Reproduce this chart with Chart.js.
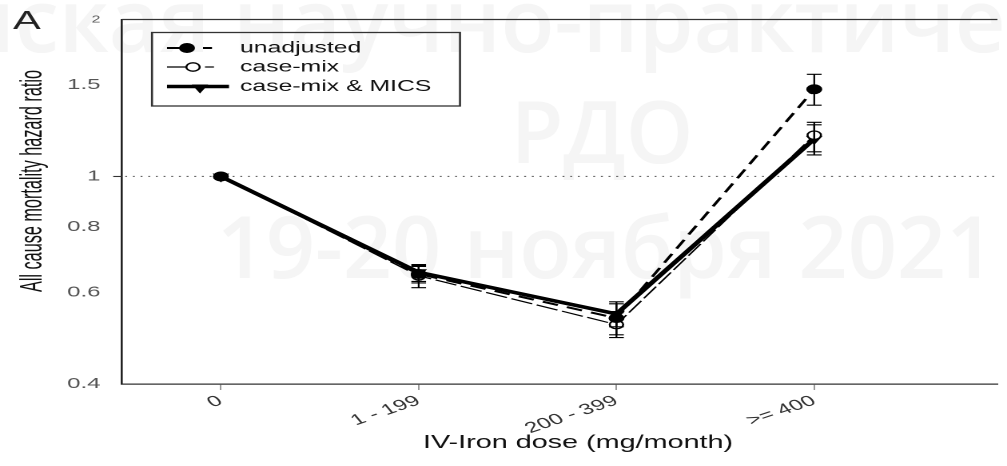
<!DOCTYPE html>
<html><head><meta charset="utf-8">
<script src="https://cdn.jsdelivr.net/npm/chart.js@4.4.1/dist/chart.umd.min.js"></script>
<style>
html,body{margin:0;padding:0;background:#fff;overflow:hidden;width:1007px;height:466px;}
#wrap{position:absolute;left:0;top:0;width:630px;height:466px;transform:scaleX(1.5984127);transform-origin:0 0;}
canvas{display:block;}
</style></head><body>
<div id="wrap"><canvas id="c" width="630" height="466"></canvas></div>
<script>
// ---- data ----
const categories = ['0', '1 - 199', '200 - 399', '>= 400'];
const yTickValues = [0.4, 0.6, 0.8, 1, 1.5, 2];
const seriesNames = ['unadjusted', 'case-mix', 'case-mix & MICS'];
const unadjusted      = [1.00, 0.650, 0.535, 1.47];
const unadjustedLow   = [null, 0.625, 0.491, 1.37];
const unadjustedHigh  = [null, 0.675, 0.570, 1.57];
const caseMix         = [1.00, 0.645, 0.520, 1.20];
const caseMixLow      = [null, 0.612, 0.497, 1.115];
const caseMixHigh     = [null, 0.672, 0.548, 1.27];
const caseMixMics     = [1.00, 0.655, 0.545, 1.18];
const caseMixMicsLow  = [null, 0.629, 0.515, 1.10];
const caseMixMicsHigh = [null, 0.678, 0.575, 1.256];
const xAxisTitle = 'IV-Iron dose (mg/month)';
const yAxisTitle = 'All cause mortality hazard ratio';
const panelLabel = 'A';
const watermarkLines = ['Всероссийская научно-практическая конференция', 'РДО', '19-20 ноября 2021'];

// ---- setup ----
const S = 1007 / 630; // horizontal stretch of the picture
const FONT = "'Liberation Sans', Arial, Helvetica, sans-serif";
const toPts = arr => arr.map((v, i) => ({ x: i, y: v }));

const watermark = {
  id: 'watermark',
  beforeDraw(chart) {
    const ctx = chart.ctx;
    ctx.save();
    ctx.fillStyle = '#fff';
    ctx.fillRect(0, 0, chart.width, chart.height);
    ctx.scale(1 / S, 1);
    ctx.fillStyle = '#f5f5f5';
    ctx.textBaseline = 'alphabetic';
    ctx.font = "600 88px 'Open Sans', 'Noto Sans', sans-serif";
    ctx.textAlign = 'left';
    const pre = watermarkLines[0].split(' ')[0] + ' ';
    ctx.fillText(watermarkLines[0], 233 - ctx.measureText(pre).width, 52);
    ctx.font = "600 86px 'Open Sans', 'Noto Sans', sans-serif";
    ctx.textAlign = 'center';
    ctx.fillText(watermarkLines[1], 602, 163);
    ctx.fillText(watermarkLines[2], 606, 278);
    ctx.restore();
  }
};

const frame = {
  id: 'frame',
  beforeDatasetsDraw(chart) {
    const { ctx, chartArea: a, scales: { y } } = chart;
    const y1 = y.getPixelForValue(1);
    ctx.save();
    ctx.strokeStyle = '#666';
    ctx.lineWidth = 1.1;
    ctx.setLineDash([1.2, 3.6]);
    ctx.beginPath(); ctx.moveTo(a.left + 2, y1); ctx.lineTo(a.right, y1); ctx.stroke();
    ctx.setLineDash([]);
    ctx.strokeStyle = '#333';
    ctx.beginPath(); ctx.moveTo(a.left - 5.5, y1); ctx.lineTo(a.left, y1); ctx.stroke();
    ctx.lineWidth = 1.2;
    ctx.beginPath(); ctx.moveTo(a.left, a.top); ctx.lineTo(a.right, a.top); ctx.stroke();
    ctx.restore();
  }
};

const errorBars = {
  id: 'errorBars',
  afterDatasetsDraw(chart) {
    const { ctx, scales: { x, y } } = chart;
    ctx.save();
    ctx.strokeStyle = '#000';
    ctx.lineWidth = 1.1;
    chart.data.datasets.forEach(ds => {
      ds.low.forEach((lo, i) => {
        const hi = ds.high[i];
        if (lo == null || hi == null) return;
        const px = x.getPixelForValue(i);
        const pl = y.getPixelForValue(lo), ph = y.getPixelForValue(hi);
        const w = 4.6;
        ctx.beginPath();
        ctx.moveTo(px, pl); ctx.lineTo(px, ph);
        ctx.moveTo(px - w, pl); ctx.lineTo(px + w, pl);
        ctx.moveTo(px - w, ph); ctx.lineTo(px + w, ph);
        ctx.stroke();
      });
    });
    ctx.restore();
  }
};

const decorations = {
  id: 'decorations',
  afterDraw(chart) {
    const ctx = chart.ctx;
    const ds = chart.data.datasets;
    ctx.save();
    // legend box
    const bx0 = 152 / S, bx1 = 460 / S, by0 = 32.5, by1 = 106;
    ctx.strokeStyle = '#333'; ctx.lineWidth = 1.3;
    ctx.strokeRect(bx0, by0, bx1 - bx0, by1 - by0);
    const rows = [48, 67, 86.5];
    const lx0 = 167 / S;
    const textX = 240 / S;
    const drawPt = (d, px, py) => {
      ctx.fillStyle = d.pointBackgroundColor;
      ctx.strokeStyle = d.pointBorderColor;
      ctx.lineWidth = d.pointBorderWidth;
      Chart.helpers.drawPoint(ctx, { pointStyle: d.pointStyle, radius: d.pointRadius, rotation: d.pointRotation || 0, borderWidth: d.pointBorderWidth }, px, py);
    };
    ds.forEach((d, k) => {
      const ry = rows[k];
      ctx.strokeStyle = '#000';
      ctx.lineWidth = d.borderWidth;
      ctx.setLineDash([]);
      if (k < 2) {
        const mx = (k === 0 ? 187 : 193) / S;
        ctx.beginPath(); ctx.moveTo(lx0, ry); ctx.lineTo(mx, ry); ctx.stroke();
        ctx.beginPath(); ctx.moveTo((k === 0 ? 203 : 205) / S, ry); ctx.lineTo((k === 0 ? 212 : 214) / S, ry); ctx.stroke();
        drawPt(d, mx, ry);
      } else {
        ctx.beginPath(); ctx.moveTo(lx0, ry); ctx.lineTo(229 / S, ry); ctx.stroke();
        drawPt(d, 200 / S, ry + 1);
      }
      ctx.fillStyle = '#111';
      ctx.font = '15.5px ' + FONT;
      ctx.textAlign = 'left'; ctx.textBaseline = 'middle';
      ctx.fillText(d.label, textX, ry);
    });
    // x axis title
    ctx.fillStyle = '#111';
    ctx.font = '18px ' + FONT;
    ctx.textAlign = 'center'; ctx.textBaseline = 'middle';
    ctx.fillText(xAxisTitle, 578 / S, 443);
    // y axis title
    ctx.save();
    ctx.translate(33 / S, 181);
    ctx.rotate(-Math.PI / 2);
    ctx.font = '19px ' + FONT;
    const w = ctx.measureText(yAxisTitle).width;
    ctx.scale(222 / w, 1);
    ctx.fillStyle = '#111';
    ctx.textAlign = 'center'; ctx.textBaseline = 'middle';
    ctx.fillText(yAxisTitle, 0, 0);
    ctx.restore();
    // panel label
    ctx.fillStyle = '#222';
    ctx.font = '26px ' + FONT;
    ctx.textAlign = 'left'; ctx.textBaseline = 'alphabetic';
    ctx.fillText(panelLabel, 13 / S, 29);
    ctx.restore();
  }
};

new Chart(document.getElementById('c'), {
  type: 'line',
  data: {
    datasets: [
      { label: seriesNames[0], data: toPts(unadjusted), low: unadjustedLow, high: unadjustedHigh,
        borderColor: '#000', borderWidth: 2, borderDash: [10, 6], fill: false, tension: 0,
        pointStyle: 'circle', pointRadius: 4.5, pointBackgroundColor: '#000', pointBorderColor: '#000', pointBorderWidth: 1 },
      { label: seriesNames[1], data: toPts(caseMix), low: caseMixLow, high: caseMixHigh,
        borderColor: '#000', borderWidth: 1.2, borderDash: [14, 3], fill: false, tension: 0,
        pointStyle: 'circle', pointRadius: 4.2, pointBackgroundColor: '#fff', pointBorderColor: '#000', pointBorderWidth: 1.3 },
      { label: seriesNames[2], data: toPts(caseMixMics), low: caseMixMicsLow, high: caseMixMicsHigh,
        borderColor: '#000', borderWidth: 3.5, fill: false, tension: 0,
        pointStyle: 'triangle', pointRotation: 180, pointRadius: 5, pointBackgroundColor: '#000', pointBorderColor: '#000', pointBorderWidth: 1 }
    ]
  },
  options: {
    responsive: false, animation: false, devicePixelRatio: 2,
    layout: { padding: { left: 0, top: 14, right: 0, bottom: 0 } },
    plugins: { legend: { display: false }, tooltip: { enabled: false }, title: { display: false } },
    scales: {
      x: {
        type: 'linear', min: -0.5, max: 3.926,
        afterBuildTicks: s => { s.ticks = categories.map((c, i) => ({ value: i })); },
        afterFit: s => { s.height = 82; },
        ticks: { autoSkip: false, minRotation: 28, maxRotation: 28, padding: 2, color: '#333',
                 font: { family: FONT, size: 15 }, callback: v => categories[v] },
        grid: { display: true, drawOnChartArea: false, drawTicks: true, tickLength: 6, color: '#999' },
        border: { display: true, color: '#333', width: 1.3 }
      },
      y: {
        type: 'logarithmic', min: 0.4, max: 2,
        afterBuildTicks: s => { s.ticks = yTickValues.map(v => ({ value: v })); },
        afterFit: s => { s.width = 122 / S; },
        ticks: { padding: 13.5, color: '#555',
                 font: c => ({ family: FONT, size: (c.tick && c.tick.value === 2) ? 10 : 15 }),
                 callback: v => String(v) },
        grid: { display: false, drawTicks: false },
        border: { display: true, color: '#222', width: 1.3 }
      }
    }
  },
  plugins: [watermark, frame, errorBars, decorations]
});
</script>
</body></html>
